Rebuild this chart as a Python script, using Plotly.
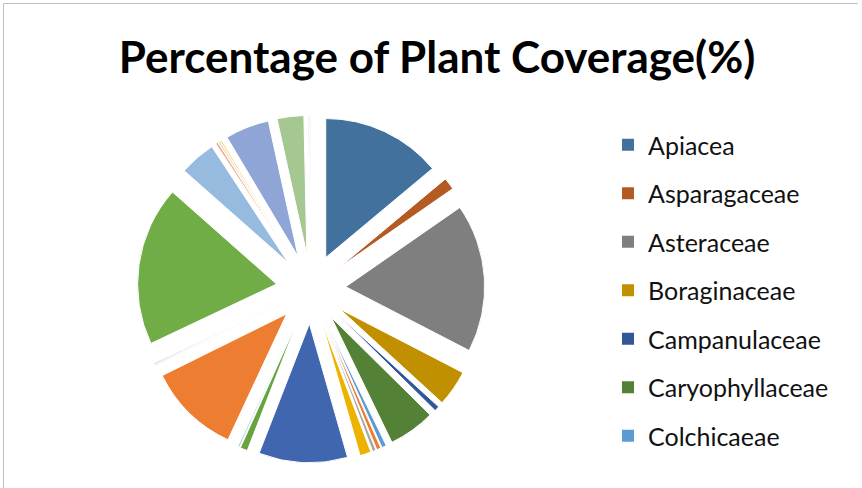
import plotly.graph_objects as go

# ---- data ----
families = [
    "Apiacea", "Asparagaceae", "Asteraceae", "Boraginaceae", "Campanulaceae",
    "Caryophyllaceae", "Colchicaeae", "Family 8", "Family 9", "Family 10",
    "Family 11", "Family 12", "Family 13", "Family 14", "Family 15",
    "Family 16", "Family 17", "Family 18", "Family 19", "Family 20",
    "Family 21", "Family 22", "Family 23", "Family 24", "Family 25",
]
coverage = [
    13.9, 1.4, 17.2, 4.2, 0.6,
    5.4, 0.55, 0.5, 0.4, 1.3,
    10.3, 0.85, 0.2, 10.7, 0.15,
    0.15, 18.5, 4.2, 0.28, 0.2,
    0.22, 5.1, 3.1, 0.17, 0.17,
]
slice_colors = [
    "#41719C", "#B35B22", "#7F7F7F", "#C09000", "#325799",
    "#538135", "#5B9BD5", "#ED7D31", "#A5A5A5", "#EDB200",
    "#4066AF", "#67A440", "#9DC3E6", "#ED7D31", "#FFD966",
    "#8FAADC", "#70AD47", "#97BADF", "#F4A782", "#C9C9C9",
    "#FFD966", "#8FA5D5", "#A5C892", "#DEEBF7", "#D6DCE4",
]
legend_count = 7  # the reference legend only lists the first seven families

W, H = 862, 488
cx, cy, r, pull = 311, 289, 139, 0.25
half = r * (1 + pull)

fig = go.Figure()
fig.add_trace(go.Pie(
    labels=families,
    values=coverage,
    sort=False,
    direction="clockwise",
    rotation=0,
    pull=[pull] * len(coverage),
    marker=dict(colors=slice_colors, line=dict(color="white", width=1)),
    textinfo="none",
    hoverinfo="label+percent",
    showlegend=False,
    domain=dict(x=[(cx - half) / W, (cx + half) / W],
                y=[(H - cy - half) / H, (H - cy + half) / H]),
))

for name, col in zip(families[:legend_count], slice_colors[:legend_count]):
    fig.add_trace(go.Scatter(
        x=[None], y=[None], mode="markers", name=name,
        legendgroup=name,
        marker=dict(symbol="square", size=13, color=col),
    ))

fig.update_layout(
    width=W, height=H,
    margin=dict(l=0, r=0, t=0, b=0),
    paper_bgcolor="white", plot_bgcolor="white",
    xaxis=dict(visible=False), yaxis=dict(visible=False),
    title=dict(
        text="Percentage of Plant Coverage(%)",
        font=dict(family="Lato", size=44, color="black", weight="bold"),
        x=437 / W, xanchor="center", y=1 - 58 / H, yanchor="middle",
    ),
    legend=dict(
        x=608 / W, xanchor="left", y=1 - 122 / H, yanchor="top",
        traceorder="grouped", tracegroupgap=13,
        font=dict(family="Lato", size=25, color="#111111"),
        itemsizing="constant",
    ),
    shapes=[
        dict(type="line", xref="paper", yref="paper", x0=3.5 / W, x1=3.5 / W,
             y0=0, y1=1 - 3.5 / H, line=dict(color="#BFBFBF", width=1)),
        dict(type="line", xref="paper", yref="paper", x0=3.5 / W, x1=858 / W,
             y0=1 - 3.5 / H, y1=1 - 3.5 / H, line=dict(color="#BFBFBF", width=1)),
    ],
)

fig.write_html("out.html")
